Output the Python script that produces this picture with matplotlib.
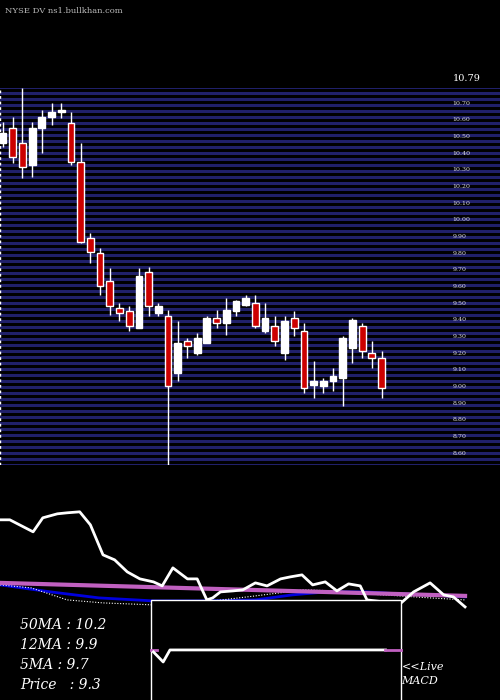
import numpy as np
import matplotlib
matplotlib.use("Agg")
from matplotlib import pyplot as plt
from matplotlib.patches import Rectangle

# daily candles (open, high, low, close)
opens  = [10.46,10.55,10.46,10.33,10.55,10.62,10.65,10.58,10.35,9.89,9.80,9.63,9.47,9.45,9.35,9.69,9.44,9.42,9.08,9.27,
          9.20,9.26,9.41,9.38,9.45,9.49,9.50,9.33,9.36,9.20,9.41,9.33,9.01,9.00,9.03,9.05,9.23,9.36,9.20,9.17]
highs  = [10.59,10.62,10.79,10.59,10.66,10.70,10.70,10.65,10.46,9.92,9.83,9.71,9.50,9.48,9.71,9.72,9.50,9.46,9.39,9.29,
          9.32,9.42,9.46,9.53,9.52,9.55,9.55,9.50,9.42,9.42,9.45,9.38,9.15,9.05,9.11,9.30,9.41,9.38,9.27,9.21]
lows   = [10.44,10.34,10.25,10.26,10.40,10.57,10.61,10.33,9.86,9.74,9.55,9.43,9.39,9.33,9.35,9.42,9.42,8.53,9.03,9.17,
          9.19,9.26,9.35,9.31,9.42,9.48,9.35,9.32,9.24,9.16,9.30,8.96,8.93,8.96,8.97,8.88,9.14,9.17,9.11,8.93]
closes = [10.52,10.38,10.32,10.55,10.62,10.65,10.65,10.35,9.87,9.81,9.60,9.48,9.44,9.36,9.66,9.48,9.48,9.00,9.26,9.24,
          9.29,9.41,9.38,9.46,9.51,9.53,9.36,9.41,9.27,9.39,9.35,8.99,9.03,9.03,9.06,9.29,9.40,9.21,9.17,8.99]

# lower panel indicators (x in candle index units, arbitrary level units)
osc_x = [-0.3,0.7,3.1,4.1,5.6,6.6,7.9,9.0,10.3,11.5,12.8,14.1,15.5,16.4,17.5,19.0,20.0,21.0,21.6,22.4,23.7,24.7,
         26.0,27.2,28.6,29.6,30.8,31.9,33.2,34.4,35.6,36.8,37.5,40.9,42.3,44.0,45.4,46.4,47.6]
osc_v = [180,180,168,182,186,187,188,175,145,140,128,121,118,114,132,121,121,100,102,108,109,110,117,114,121,123,125,
         115,118,109,116,114,100,96,108,117,105,103,93]
ma_x = [-0.3, 47.6]
ma_v = [117, 104]
blue_x = [-0.3,4.9,9.9,15.5,21.0,26.0,29.8,33.3,37.4,40.9,44.0,47.6]
blue_v = [115,108,102,99,99,100,105,108,108,106,105,103]
dot_x = [-0.3,2.9,6.6,10.3,15.5,20.0,26.0,30.9,34.4,37.4,40.9,44.0,47.6]
dot_v = [115,112,100,97,95,97,104,110,109,106,104,102,100]
price_labels = ["10.79","10.70","10.60","10.50","10.40","10.30","10.20","10.10","10.00","9.90","9.80","9.70",
                "9.60","9.50","9.40","9.30","9.20","9.10","9.00","8.90","8.80","8.70","8.60"]

fig = plt.figure(figsize=(5, 7), dpi=100, facecolor="black")
xl = (-0.31, 51.2)

ax = fig.add_axes([0, 0.336, 1, 0.538])
ax.set_facecolor("black")
ax.set_xlim(*xl)
ax.set_ylim(8.53, 10.79)
for yy in np.arange(8.53, 10.80, 0.036):
    ax.axhline(yy, color="#20206a", lw=2.2, zorder=0)
ax.axvline(-0.3, color="white", lw=1, ls=(0, (2, 2)))
for i in range(len(opens)):
    o, h, l, c = opens[i], highs[i], lows[i], closes[i]
    up = c >= o
    ax.vlines(i, l, h, color="white", lw=1, zorder=2)
    lo, hi = min(o, c), max(o, c)
    if hi - lo < 0.005:
        hi = lo + 0.008
    ax.add_patch(Rectangle((i - 0.35, lo), 0.7, hi - lo, facecolor="white" if up else "#cc0000",
                           edgecolor="white", lw=1, zorder=3))
for k, lab in enumerate(price_labels[1:]):
    yv = 10.70 - k * 0.1
    ax.text(46.3, yv, lab, color="#dddddd", fontsize=4.5, family="serif", va="center")
ax.text(46.3, 10.85, price_labels[0], color="white", fontsize=7, family="serif", va="center", clip_on=False)
ax.axis("off")

fig.text(0.01, 0.99, "NYSE DV ns1.bullkhan.com", color="#bbbbbb", fontsize=6, family="serif", va="top")

ax2 = fig.add_axes([0, 0, 1, 0.286])
ax2.set_facecolor("black")
ax2.set_xlim(*xl)
ax2.set_ylim(0, 200)
ax2.plot(ma_x, ma_v, color="#c060c0", lw=3, zorder=3)
ax2.plot(blue_x, blue_v, color="#0000dd", lw=2, zorder=2)
ax2.plot(dot_x, dot_v, color="white", lw=0.8, ls=(0, (1, 1.5)), zorder=2)
ax2.plot(osc_x, osc_v, color="white", lw=2, zorder=4)
ax2.add_patch(Rectangle((15.2, -5), 25.8, 105, facecolor="black", edgecolor="white", lw=1, zorder=5))
ax2.plot([15.2, 15.9], [50, 50], color="#c060c0", lw=2, zorder=6)
ax2.plot([15.5, 16.5, 17.2, 39.4], [48, 38, 50, 50], color="white", lw=2, zorder=6)
ax2.plot([39.4, 41.0], [50, 50], color="#c060c0", lw=2, zorder=6)
ax2.axis("off")

labels = ["50MA : 10.2", "12MA : 9.9", "5MA : 9.7", "Price   : 9.3"]
for k, t in enumerate(labels):
    fig.text(0.04, 0.107 - k * 0.0285, t, color="white", fontsize=10, family="serif", style="italic", va="center")
fig.text(0.803, 0.0475, "<<Live", color="white", fontsize=8, family="serif", style="italic", va="center")
fig.text(0.803, 0.027, "MACD", color="white", fontsize=8, family="serif", style="italic", va="center")

fig.savefig("out.png", facecolor="black")
